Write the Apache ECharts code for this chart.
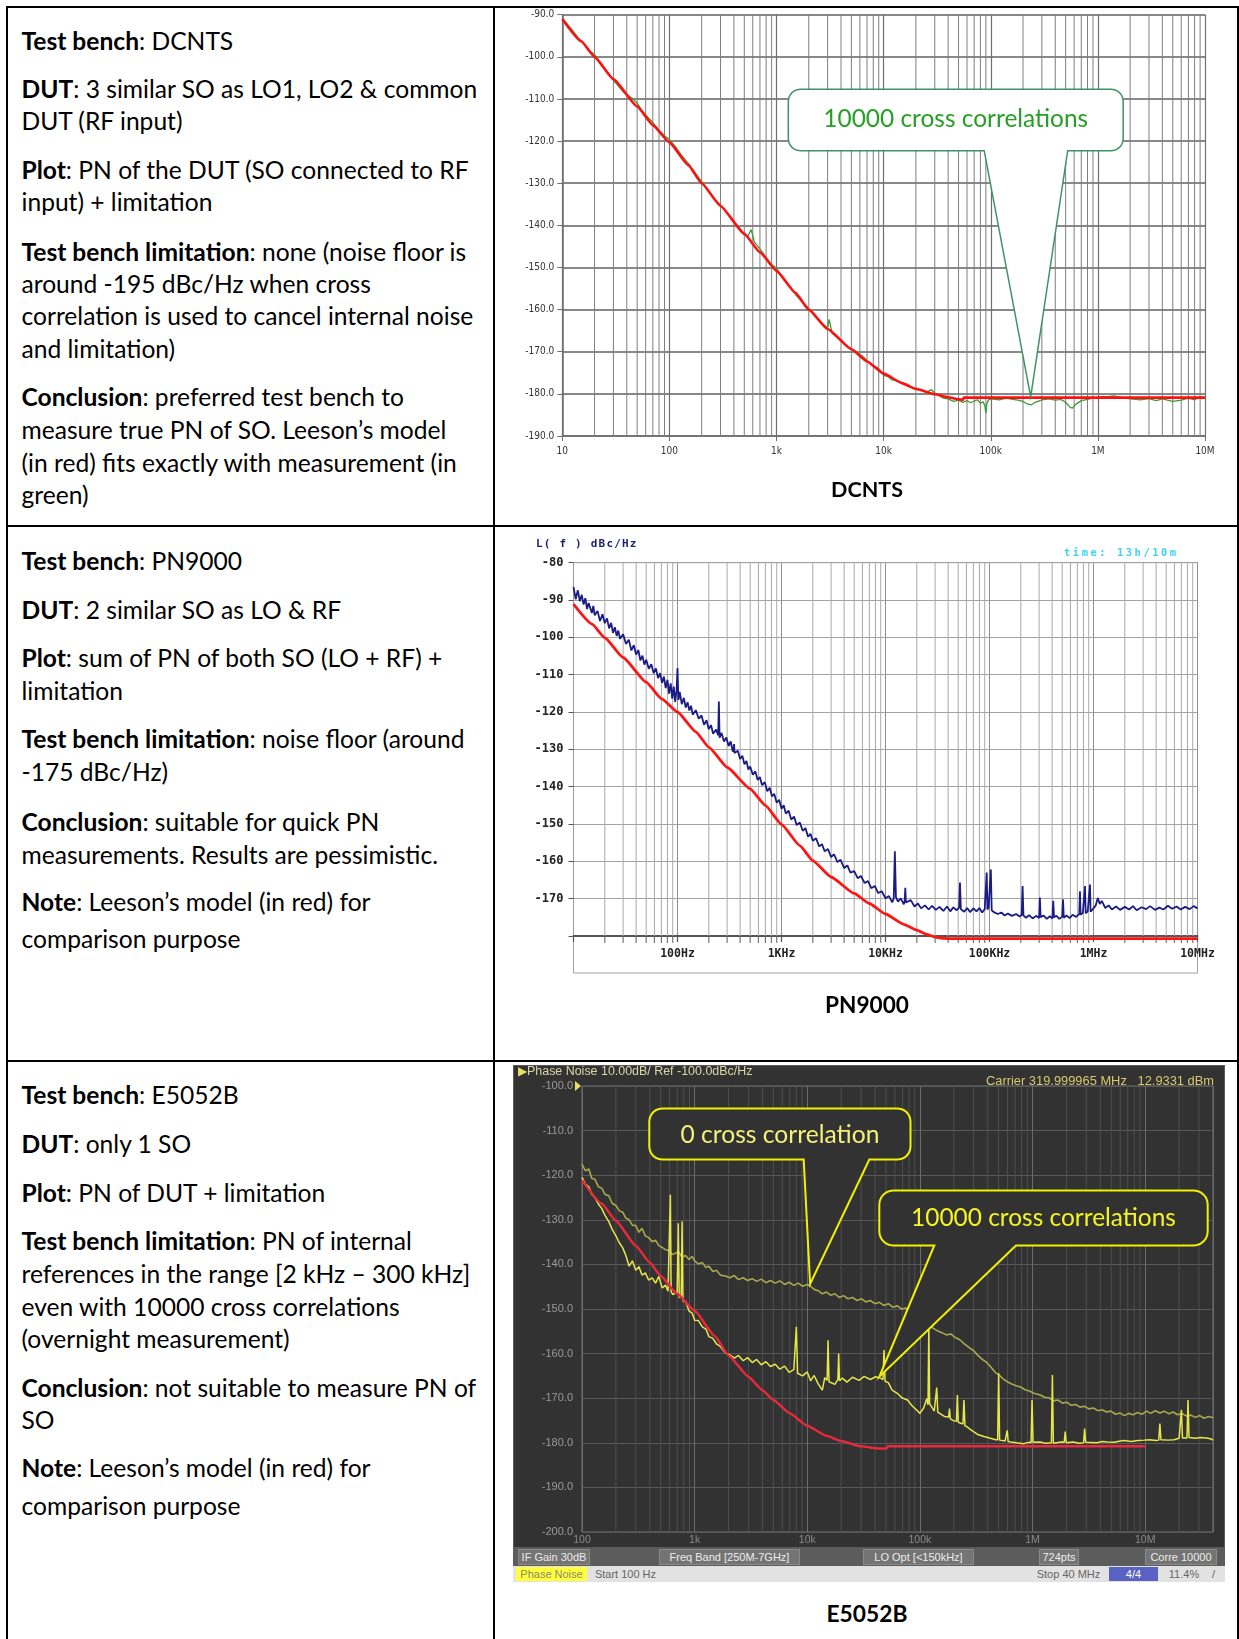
<!DOCTYPE html>
<html><head><meta charset="utf-8">
<script src="https://cdn.jsdelivr.net/npm/echarts/dist/echarts.min.js"></script>
<style>
html,body{margin:0;padding:0;background:#fff;}
#page{position:relative;width:1239px;height:1639px;overflow:hidden;background:#fff;}
.hl{position:absolute;height:2px;background:#000;}
.vl{position:absolute;width:2px;background:#000;}
.ln{position:absolute;left:21.5px;white-space:nowrap;color:#000;font-family:Lato,'Open Sans',sans-serif;font-size:21px;line-height:1;transform:translateY(-50%);}
.ln b{font-weight:700;}
.cap{position:absolute;white-space:nowrap;font-family:Lato,'Open Sans',sans-serif;font-weight:700;color:#000;font-size:22px;line-height:1;transform:translate(-50%,-50%);}
.chart{position:absolute;}
.ov{position:absolute;white-space:nowrap;line-height:1;transform:translateY(-50%);}
.box{position:absolute;box-sizing:border-box;white-space:nowrap;line-height:1;display:flex;align-items:center;justify-content:center;}
</style></head><body><div id="page">
<div class="hl" style="left:6px;top:6px;width:1233px"></div>
<div class="hl" style="left:6px;top:525px;width:1233px"></div>
<div class="hl" style="left:6px;top:1060px;width:1233px"></div>
<div class="vl" style="left:6px;top:6px;height:1633px"></div>
<div class="vl" style="left:493px;top:6px;height:1633px"></div>
<div class="vl" style="left:1237px;top:6px;height:1633px"></div>

<div id="c1" class="chart" style="left:497px;top:8px;width:738px;height:516px"></div>
<div id="c2" class="chart" style="left:497px;top:528px;width:738px;height:528px"></div>
<div id="c3" class="chart" style="left:513px;top:1065px;width:712px;height:483px;background:#323232;box-sizing:border-box;border:1px solid #5a5a5a"></div>

<div class="cap" data-w="72" style="left:867px;top:490px">DCNTS</div>
<div class="cap" data-w="84" style="left:867px;top:1005px">PN9000</div>
<div class="cap" data-w="81" style="left:867px;top:1613.5px">E5052B</div>

<div class="ov" style="left:536px;top:543px;font-family:'DejaVu Sans Mono',monospace;font-weight:700;font-size:11px;letter-spacing:1.2px;color:#1d1d70">L( f ) dBc/Hz</div>
<div class="ov" style="left:1064px;top:552px;font-family:'DejaVu Sans Mono',monospace;font-weight:700;font-size:10.5px;letter-spacing:2.5px;color:#3fd3ee">time: 13h/10m</div>

<div class="ov" data-w="235" style="left:518px;top:1071px;font-family:'Liberation Sans',sans-serif;font-size:12px;color:#d9d6a8"><span style="color:#e8e060">&#9654;</span>Phase Noise 10.00dB/ Ref -100.0dBc/Hz</div>
<div class="ov" data-w="228" style="left:986px;top:1081px;font-family:'Liberation Sans',sans-serif;font-size:12px;color:#d8c96c">Carrier 319.999965 MHz &nbsp;&nbsp;12.9331 dBm</div>

<div style="position:absolute;left:513px;top:1548px;width:712px;height:18px;background:#5c5c5c"></div>
<div style="position:absolute;left:513px;top:1566px;width:712px;height:16px;background:#e2e2e2"></div>
<div id="bars"></div>

<div id="txt"></div>
</div>
<script>
// ---------------- left column text ----------------
const textLines = [
 [41,'<b>Test bench</b>: DCNTS'],
 [89,'<b>DUT</b>: 3 similar SO as LO1, LO2 &amp; common'],
 [121,'DUT (RF input)'],
 [170,'<b>Plot</b>: PN of the DUT (SO connected to RF'],
 [202,'input) + limitation'],
 [251.5,'<b>Test bench limitation</b>: none (noise floor is'],
 [284,'around -195 dBc/Hz when cross'],
 [316,'correlation is used to cancel internal noise'],
 [348.5,'and limitation)'],
 [397,'<b>Conclusion</b>: preferred test bench to'],
 [430,'measure true PN of SO. Leeson\u2019s model'],
 [463,'(in red) fits exactly with measurement (in'],
 [494.5,'green)'],
 [561,'<b>Test bench</b>: PN9000'],
 [610,'<b>DUT</b>: 2 similar SO as LO &amp; RF'],
 [658,'<b>Plot</b>: sum of PN of both SO (LO + RF) +'],
 [690.5,'limitation'],
 [739,'<b>Test bench limitation</b>: noise floor (around'],
 [772,'-175 dBc/Hz)'],
 [821.5,'<b>Conclusion</b>: suitable for quick PN'],
 [854.5,'measurements. Results are pessimistic.'],
 [901.7,'<b>Note</b>: Leeson\u2019s model (in red) for'],
 [938.5,'comparison purpose'],
 [1094.5,'<b>Test bench</b>: E5052B'],
 [1144.4,'<b>DUT</b>: only 1 SO'],
 [1193,'<b>Plot</b>: PN of DUT + limitation'],
 [1241,'<b>Test bench limitation</b>: PN of internal'],
 [1274.3,'references in the range [2 kHz \u2013 300 kHz]'],
 [1306.7,'even with 10000 cross correlations'],
 [1339,'(overnight measurement)'],
 [1387.5,'<b>Conclusion</b>: not suitable to measure PN of'],
 [1420,'SO'],
 [1467.5,'<b>Note</b>: Leeson\u2019s model (in red) for'],
 [1506.4,'comparison purpose']
];
const txt = document.getElementById('txt');
let refEl = null;
textLines.forEach(([y, h]) => {
  const d = document.createElement('div'); d.className = 'ln'; d.style.top = y + 'px'; d.innerHTML = h;
  txt.appendChild(d);
  if (h.indexOf('correlation is used') === 0) refEl = d;
});
const k = 452 / refEl.getBoundingClientRect().width;
document.querySelectorAll('.ln').forEach(e => { e.style.fontSize = (21 * k).toFixed(2) + 'px'; });
document.querySelectorAll('[data-w]').forEach(e => {
  const fs = parseFloat(getComputedStyle(e).fontSize);
  const w = e.getBoundingClientRect().width;
  e.style.fontSize = (fs * parseFloat(e.dataset.w) / w).toFixed(2) + 'px';
});

// E5052B status bars
const barFields = [[518,590,'IF Gain 30dB'],[659,800,'Freq Band [250M-7GHz]'],[863,974,'LO Opt [<150kHz]'],[1039,1079,'724pts'],[1145,1217,'Corre 10000']];
const bars = document.getElementById('bars');
barFields.forEach(([a,b,t]) => {
  const d = document.createElement('div'); d.className = 'box';
  Object.assign(d.style,{left:a+'px',top:'1549px',width:(b-a)+'px',height:'16px',background:'#747474',border:'1px solid #8a8a8a',color:'#ececec',fontFamily:"'Liberation Sans',sans-serif",fontSize:'11px'});
  d.textContent = t; bars.appendChild(d);
});
const statusFields = [[516,587,'Phase Noise','#ffff3c','#8a8a70'],[589,662,'Start 100 Hz','transparent','#666'],[1031,1106,'Stop 40 MHz','transparent','#666'],[1109,1158,'4/4','#5a62c4','#fff'],[1163,1205,'11.4%','transparent','#666'],[1209,1218,'/','transparent','#666']];
statusFields.forEach(([a,b,t,bg,c]) => {
  const d = document.createElement('div'); d.className = 'box';
  Object.assign(d.style,{left:a+'px',top:'1567px',width:(b-a)+'px',height:'14px',background:bg,color:c,fontFamily:"'Liberation Sans',sans-serif",fontSize:'11px'});
  d.textContent = t; bars.appendChild(d);
});

// ---------------- data ----------------
const dcntsTickVals = [10,100,1e3,1e4,1e5,1e6,1e7];
const dcntsTickLabels = ['10','100','1k','10k','100k','1M','10M'];
const dcntsModel = [[10,-91],[15,-96.3],[20,-100],[30,-105.3],[50,-111.8],[70,-116.2],[100,-120.3],[150,-125.7],[200,-130],[300,-135.4],[500,-142],[700,-146.4],[1000,-150.8],[1500,-156],[2000,-160],[3000,-164.6],[5000,-169.4],[7000,-172.3],[10000,-175.2],[15000,-177.5],[20000,-178.8],[30000,-180.1],[40000,-180.8],[50000,-181.3],[55000,-181.4],[56000,-180.9],[100000,-180.9],[1000000,-180.9],[10000000,-180.9]];
const dcntsMeas = [[10,-90.8],[12,-93.2],[14,-95.4],[16,-96.9],[18,-98.6],[20,-99.4],[23,-101.9],[26,-103.4],[30,-105.6],[34,-107.2],[38,-108.6],[42,-109.3],[46,-110.1],[50,-111.0],[55,-112.6],[60,-113.8],[70,-115.6],[80,-117.4],[90,-118.8],[100,-119.6],[115,-121.5],[130,-123.4],[150,-125.3],[170,-127.2],[200,-129.6],[230,-131.7],[260,-133.6],[300,-135.2],[340,-136.9],[380,-138.6],[420,-139.7],[460,-140.9],[500,-142.3],[540,-142.6],[580,-141.0],[620,-143.9],[700,-145.6],[800,-147.6],[900,-149.3],[1000,-150.2],[1150,-152.6],[1300,-154.3],[1500,-156.4],[1700,-157.9],[2000,-159.7],[2300,-161.6],[2600,-163.1],[3000,-164.3],[3100,-162.3],[3300,-165.6],[3600,-166.4],[4000,-167.2],[4500,-168.6],[5000,-169.3],[5600,-170.1],[6300,-171.0],[7000,-172.1],[8000,-173.3],[9000,-174.0],[10000,-175.6],[11000,-175.9],[12000,-176.7],[13500,-176.9],[15000,-177.3],[17000,-178.2],[20000,-178.9],[22000,-179.1],[25000,-179.6],[28000,-179.0],[30000,-179.8],[33000,-180.4],[36000,-181.0],[40000,-181.2],[45000,-181.8],[50000,-181.5],[55000,-182.0],[60000,-181.6],[65000,-182.1],[70000,-181.7],[75000,-181.4],[80000,-182.2],[85000,-181.9],[88000,-182.8],[90000,-184.6],[92000,-182.3],[95000,-181.5],[100000,-181.2],[120000,-181.4],[140000,-181.0],[160000,-181.3],[180000,-181.5],[200000,-181.8],[220000,-182.4],[240000,-182.6],[260000,-182.0],[300000,-181.4],[350000,-181.2],[400000,-181.5],[450000,-181.3],[500000,-182.0],[550000,-183.2],[580000,-183.4],[620000,-182.5],[700000,-181.6],[800000,-181.3],[900000,-181.0],[1000000,-180.9],[1100000,-180.6],[1200000,-180.7],[1400000,-180.5],[1600000,-180.8],[2000000,-181.2],[2500000,-181.4],[3000000,-181.1],[3500000,-181.6],[4000000,-181.2],[5000000,-181.8],[6000000,-181.5],[7000000,-181.0],[8000000,-181.4],[9000000,-180.7],[10000000,-181.0]];
const dcntsCalloutTip = [236000,-180.7];
const dcntsCalloutText = '10000 cross correlations';

const pnTickVals = [10,100,1e3,1e4,1e5,1e6,1e7];
const pnTickLabels = ['','100Hz','1KHz','10KHz','100KHz','1MHz','10MHz'];
const pnModel = [[10,-91.1],[15,-96.4],[20,-100.1],[30,-105.4],[50,-112.0],[70,-116.4],[100,-120.0],[150,-125.3],[200,-129.4],[300,-134.8],[500,-140.6],[700,-145.0],[1000,-150.1],[1500,-155.8],[2000,-159.8],[3000,-164.2],[5000,-168.6],[7000,-171.3],[10000,-174.1],[15000,-176.9],[20000,-178.4],[25000,-179.6],[30000,-180.3],[35000,-180.6],[40000,-180.7],[100000,-180.7],[1000000,-180.7],[10000000,-180.7]];
const pnMeas = [[10,-86.5],[10.5,-89.8],[11,-87.4],[11.5,-90.3],[12,-88.6],[12.5,-91.2],[13,-89.5],[13.5,-92.4],[14,-90.8],[15,-93.5],[15.5,-91.6],[16,-94.1],[17,-92.9],[18,-95.6],[19,-93.8],[20,-96.2],[21,-94.9],[22,-97.6],[23,-96.1],[24,-98.8],[25,-97.3],[26,-99.6],[27,-98.2],[28,-100.4],[30,-99.2],[32,-101.8],[34,-100.6],[36,-103.5],[38,-102.1],[40,-104.6],[42,-103.4],[44,-106.2],[46,-104.9],[48,-107.3],[50,-106.0],[53,-108.4],[56,-107.2],[59,-109.6],[62,-108.3],[65,-110.9],[68,-109.6],[71,-112.2],[74,-110.5],[77,-113.6],[80,-111.4],[83,-115.1],[86,-112.3],[89,-116.4],[92,-113.2],[95,-117.3],[98,-114.1],[100,-108.2],[102,-116.8],[105,-114.6],[110,-117.9],[115,-116.2],[120,-118.8],[125,-117.4],[130,-119.6],[135,-118.3],[140,-120.7],[150,-119.5],[160,-121.8],[170,-120.9],[180,-123.4],[190,-122.2],[200,-124.6],[210,-123.5],[220,-125.8],[235,-124.7],[246,-126.2],[250,-117.2],[254,-126.9],[265,-125.6],[280,-127.9],[295,-126.8],[310,-129.1],[325,-127.9],[340,-130.6],[347,-129.9],[350,-128.6],[353,-131.0],[365,-131.3],[380,-130.4],[400,-132.6],[420,-131.7],[440,-134.0],[460,-133.1],[480,-135.4],[500,-134.6],[530,-136.8],[560,-135.9],[590,-138.2],[620,-137.4],[650,-139.6],[690,-138.8],[730,-141.2],[770,-140.3],[810,-142.6],[850,-141.9],[900,-144.3],[950,-143.5],[1000,-145.9],[1050,-145.0],[1100,-147.2],[1170,-146.4],[1240,-148.8],[1320,-148.0],[1400,-150.3],[1500,-149.6],[1600,-151.8],[1700,-151.1],[1800,-153.4],[1900,-152.6],[2000,-154.5],[2150,-153.8],[2300,-156.0],[2450,-155.4],[2600,-157.3],[2800,-156.7],[3000,-158.9],[3200,-158.1],[3450,-160.2],[3700,-159.6],[4000,-161.8],[4300,-161.1],[4600,-163.0],[5000,-162.6],[5400,-164.5],[5800,-163.9],[6300,-165.8],[6800,-165.3],[7300,-167.2],[7900,-166.6],[8500,-168.5],[9200,-168.0],[10000,-169.9],[10800,-169.3],[11600,-171.0],[12000,-170.0],[12300,-157.3],[12600,-169.6],[13200,-170.8],[14000,-169.9],[15000,-171.5],[15300,-170.6],[15500,-167.1],[15700,-171.0],[16200,-171.2],[17500,-170.4],[19000,-172.1],[20500,-171.3],[22000,-172.6],[24000,-171.8],[26000,-172.9],[28000,-171.9],[30500,-173.0],[33000,-172.2],[36000,-173.3],[39000,-172.1],[42000,-173.4],[45000,-172.3],[48000,-173.1],[51000,-172.4],[52000,-165.7],[53000,-172.8],[57000,-173.5],[61000,-172.5],[65000,-173.6],[70000,-172.6],[75000,-173.4],[80000,-172.5],[85000,-173.7],[90000,-172.8],[92500,-172.4],[94000,-163.0],[95500,-172.9],[98000,-172.3],[101000,-172.6],[103000,-162.2],[105000,-173.1],[110000,-173.6],[120000,-174.1],[130000,-173.7],[140000,-174.5],[150000,-174.0],[165000,-174.6],[180000,-174.1],[195000,-174.8],[204000,-174.3],[208000,-166.6],[212000,-174.5],[225000,-175.1],[240000,-174.4],[260000,-175.3],[280000,-174.6],[300000,-175.2],[305000,-169.7],[310000,-175.0],[330000,-174.5],[355000,-175.4],[380000,-174.7],[403000,-175.3],[410000,-170.6],[417000,-175.0],[440000,-174.6],[470000,-175.4],[500000,-174.8],[509000,-170.2],[518000,-175.1],[550000,-174.5],[590000,-175.2],[630000,-174.3],[680000,-174.9],[730000,-174.1],[741000,-168.0],[752000,-174.3],[790000,-173.8],[815000,-174.2],[828000,-166.6],[841000,-173.9],[880000,-173.4],[912000,-173.8],[925000,-166.2],[938000,-173.5],[970000,-173.1],[1000000,-172.6],[1050000,-171.8],[1100000,-169.8],[1150000,-171.4],[1200000,-170.6],[1300000,-172.5],[1400000,-171.8],[1500000,-172.9],[1650000,-172.1],[1800000,-173.0],[2000000,-172.2],[2200000,-172.9],[2400000,-172.0],[2600000,-173.1],[2900000,-172.3],[3200000,-172.8],[3500000,-172.0],[3900000,-173.0],[4300000,-172.4],[4700000,-172.9],[5200000,-171.9],[5700000,-172.7],[6300000,-172.1],[6900000,-172.9],[7600000,-172.2],[8400000,-172.8],[9200000,-172.0],[10000000,-172.6]];

const e5TickVals = [100,1e3,1e4,1e5,1e6,1e7];
const e5TickLabels = ['100','1k','10k','100k','1M','10M'];
const e5Model = [[100,-121.1],[150,-126.4],[200,-130.2],[300,-135.8],[400,-139.6],[500,-142.6],[700,-146.6],[1000,-150.4],[1500,-156.0],[2000,-160.4],[3000,-165.2],[4000,-168.2],[5000,-170.4],[7000,-173.4],[10000,-176.2],[15000,-178.5],[20000,-179.6],[30000,-180.8],[43000,-181.3],[50000,-181.3],[52000,-180.8],[100000,-180.8],[1000000,-180.8],[10000000,-180.8]];
const e5NoCorr = [[100,-117.5],[107,-119.0],[115,-118.6],[122,-120.7],[130,-120.9],[140,-122.6],[150,-122.9],[160,-124.3],[173,-124.6],[185,-126.3],[200,-126.8],[215,-128.0],[230,-128.3],[245,-129.6],[262,-130.0],[280,-131.2],[300,-131.3],[320,-132.8],[341,-131.9],[365,-133.6],[390,-134.0],[420,-134.9],[450,-134.6],[481,-135.8],[515,-136.2],[550,-136.7],[590,-136.9],[630,-137.8],[676,-137.5],[720,-137.1],[770,-138.4],[830,-138.0],[890,-138.9],[950,-138.2],[1000,-139.2],[1080,-139.9],[1170,-139.6],[1260,-140.7],[1340,-140.4],[1450,-141.6],[1560,-141.3],[1690,-142.4],[1880,-142.6],[2050,-143.0],[2250,-142.5],[2450,-143.4],[2700,-143.0],[2950,-143.6],[3250,-143.2],[3550,-143.8],[3900,-143.3],[4300,-144.1],[4700,-143.6],[5200,-144.2],[5700,-143.7],[6300,-144.5],[6900,-144.0],[7600,-144.7],[8300,-144.2],[9100,-144.9],[10000,-144.5],[10700,-144.9],[11500,-145.6],[12500,-145.9],[13600,-146.6],[14800,-146.2],[16100,-146.9],[17600,-146.6],[19200,-147.4],[21000,-147.0],[23000,-147.7],[25200,-147.4],[27600,-148.1],[30200,-147.7],[33100,-148.4],[36300,-148.1],[39800,-148.8],[43600,-148.5],[47800,-149.2],[52400,-148.8],[57400,-149.6],[63000,-149.3],[69000,-150.0],[75600,-149.8],[82800,-150.6],[90700,-151.4],[99400,-152.2],[109000,-153.0],[119000,-153.6],[131000,-154.3],[143000,-154.9],[157000,-155.3],[172000,-155.8],[188000,-155.6],[206000,-156.4],[226000,-156.9],[248000,-157.8],[272000,-158.6],[299000,-159.3],[327000,-160.4],[358000,-161.3],[392000,-162.0],[423000,-162.9],[465000,-164.2],[509000,-164.9],[556000,-165.8],[596000,-166.3],[653000,-166.8],[715000,-167.2],[783000,-167.5],[857000,-168.1],[938000,-168.4],[1030000,-168.9],[1170000,-169.3],[1280000,-169.8],[1400000,-169.9],[1530000,-170.6],[1680000,-170.4],[1840000,-171.1],[2010000,-170.9],[2200000,-171.6],[2410000,-171.4],[2640000,-172.0],[2890000,-171.8],[3160000,-172.4],[3460000,-172.2],[3790000,-172.8],[4150000,-172.6],[4540000,-173.1],[4970000,-172.9],[5440000,-173.6],[5960000,-173.3],[6520000,-173.9],[7140000,-173.4],[7820000,-173.7],[8560000,-173.2],[9370000,-173.6],[10300000,-172.9],[11200000,-173.4],[12300000,-172.8],[13500000,-173.3],[14800000,-172.9],[16200000,-173.5],[17700000,-173.1],[19400000,-173.7],[21200000,-173.4],[23200000,-174.0],[25400000,-173.8],[27800000,-174.3],[30500000,-173.9],[33400000,-174.5],[36500000,-174.1],[40000000,-174.4]];
const e5Corr = [[100,-120.5],[107,-122.0],[115,-122.6],[122,-124.3],[130,-125.0],[140,-126.5],[150,-127.5],[160,-129.0],[173,-130.4],[185,-132.1],[200,-133.6],[215,-135.2],[230,-136.3],[245,-138.0],[262,-140.4],[280,-139.2],[300,-141.3],[320,-140.5],[341,-142.4],[365,-141.9],[390,-143.5],[420,-143.0],[450,-144.2],[481,-142.7],[515,-145.3],[550,-144.6],[580,-146.0],[600,-145.6],[609,-124.4],[618,-146.1],[640,-146.8],[700,-146.2],[716,-130.8],[730,-147.5],[760,-147.0],[774,-130.4],[788,-148.2],[830,-148.3],[890,-150.4],[950,-150.9],[1000,-152.5],[1080,-152.6],[1170,-154.0],[1260,-154.5],[1340,-156.2],[1450,-156.6],[1560,-157.8],[1690,-158.4],[1880,-159.9],[2050,-160.3],[2250,-161.0],[2450,-160.4],[2700,-161.6],[2950,-160.9],[3250,-162.0],[3550,-161.3],[3900,-162.5],[4300,-161.8],[4700,-162.9],[5200,-162.4],[5700,-163.5],[6300,-162.8],[6900,-164.2],[7600,-163.6],[7800,-163.8],[8000,-154.0],[8200,-164.4],[9100,-165.0],[10000,-164.1],[10700,-166.1],[11500,-164.9],[12500,-166.8],[13600,-168.2],[14300,-165.4],[15000,-166.0],[15300,-157.0],[15600,-166.3],[16100,-165.9],[17600,-166.9],[18700,-165.8],[19000,-160.0],[19300,-166.1],[20500,-165.5],[22500,-166.4],[25200,-165.3],[28800,-166.0],[32000,-165.1],[36300,-165.8],[40400,-165.2],[44600,-165.5],[47000,-165.8],[48000,-159.2],[49000,-166.2],[52400,-166.5],[56700,-168.2],[63000,-168.9],[69000,-169.9],[77500,-170.4],[86000,-171.8],[93000,-172.6],[100000,-173.4],[108000,-172.2],[115000,-170.1],[118000,-171.5],[120000,-154.0],[122000,-171.2],[126000,-171.0],[134000,-172.9],[138000,-172.6],[141000,-167.6],[144000,-173.1],[150000,-173.4],[165000,-174.1],[180000,-174.2],[183000,-172.3],[186000,-174.6],[196000,-175.0],[211000,-175.2],[215000,-169.3],[219000,-175.4],[230000,-175.6],[241000,-175.8],[246000,-170.4],[251000,-176.2],[262000,-176.4],[280000,-177.0],[299000,-177.5],[330000,-178.2],[370000,-178.6],[423000,-179.0],[470000,-179.3],[490000,-179.3],[500000,-164.4],[510000,-179.4],[530000,-179.4],[570000,-179.6],[585000,-179.6],[596000,-177.2],[607000,-179.7],[640000,-179.8],[720000,-180.0],[832000,-180.2],[920000,-179.9],[970000,-180.0],[990000,-170.4],[1010000,-179.9],[1170000,-179.8],[1300000,-180.1],[1470000,-180.0],[1500000,-164.8],[1530000,-180.1],[1800000,-179.8],[1910000,-179.9],[1950000,-177.5],[1990000,-180.0],[2300000,-179.8],[2600000,-180.1],[2840000,-180.0],[2900000,-176.8],[2960000,-179.9],[3700000,-180.0],[4200000,-179.7],[4600000,-179.8],[5300000,-179.9],[6000000,-179.6],[6500000,-179.5],[7500000,-179.7],[8600000,-179.5],[9800000,-179.4],[11000000,-179.3],[12500000,-179.5],[13200000,-179.4],[13500000,-175.7],[13800000,-179.3],[16000000,-179.4],[18000000,-179.3],[20000000,-179.0],[20600000,-179.0],[21000000,-172.6],[21400000,-178.9],[23500000,-178.9],[24000000,-170.4],[24500000,-178.8],[28000000,-179.0],[31000000,-178.8],[35000000,-178.9],[38000000,-179.1],[40000000,-179.4]];
const e5CalloutTips = [[10600,-144.4],[43600,-165.2]];
const e5CalloutTexts = ['0 cross correlation','10000 cross correlations'];

// ---------------- helpers ----------------
function logLabel(vals, labels){
  return function(v){
    for (let i = 0; i < vals.length; i++) { if (Math.abs(Math.log10(v) - Math.log10(vals[i])) < 1e-6) return labels[i]; }
    return '';
  };
}
function minorFreqs(lo, hi){
  const out = [];
  for (let d = lo; d < hi; d *= 10) { for (const m of [2,3,4,5,6,7,8,9]) { if (m * d < hi) out.push(m * d); } }
  return out;
}
function vLines(freqs, y0, y1, color, width){
  const data = [];
  freqs.forEach(f => { data.push([f, y0], [f, y1], [f, '-']); });
  return {type:'line', data, showSymbol:false, symbol:'none', silent:true, connectNulls:false, lineStyle:{color, width}, z:1};
}
function fitSize(text, family, weight, target){
  const c = document.createElement('canvas').getContext('2d');
  c.font = weight + ' 100px ' + family;
  return 100 * target / c.measureText(text).width;
}
function calloutPts(b, tip){
  const pts = []; const r = b.r;
  const arc = (cx, cy, a0, a1) => { for (let i = 0; i <= 6; i++) { const a = a0 + (a1 - a0) * i / 6; pts.push([cx + r * Math.cos(a), cy + r * Math.sin(a)]); } };
  arc(b.x0 + r, b.y0 + r, Math.PI, 1.5 * Math.PI);
  arc(b.x1 - r, b.y0 + r, 1.5 * Math.PI, 2 * Math.PI);
  arc(b.x1 - r, b.y1 - r, 0, 0.5 * Math.PI);
  pts.push([b.bx1, b.y1]); pts.push(tip); pts.push([b.bx0, b.y1]);
  arc(b.x0 + r, b.y1 - r, 0.5 * Math.PI, Math.PI);
  return pts;
}
const FONT = 'Lato';

// ---------------- chart 1 : DCNTS ----------------
const c1 = echarts.init(document.getElementById('c1'));
const lab1 = {fontFamily:'DejaVu Sans Condensed', fontSize:10, color:'#333'};
c1.setOption({
  animation:false,
  grid:{left:65.3, top:6.7, width:642.7, height:421.3, show:false, containLabel:false, outerBoundsMode:'none'},
  xAxis:{type:'log', logBase:10, min:10, max:1e7,
    axisLine:{show:true, onZero:false, lineStyle:{color:'#6e6e6e', width:1.5}},
    axisTick:{show:true, length:5, lineStyle:{color:'#6e6e6e'}},
    axisLabel:Object.assign({formatter:logLabel(dcntsTickVals, dcntsTickLabels), margin:10, showMinLabel:true, showMaxLabel:true, hideOverlap:false}, lab1),
    splitLine:{show:true, lineStyle:{color:'#707070', width:1.2}}},
  yAxis:{type:'value', min:-190, max:-90, interval:10,
    axisLine:{show:true, onZero:false, lineStyle:{color:'#6e6e6e', width:1.5}},
    axisTick:{show:true, length:5, lineStyle:{color:'#6e6e6e'}},
    axisLabel:Object.assign({formatter:v => v.toFixed(1), margin:8}, lab1),
    splitLine:{show:true, lineStyle:{color:'#888', width:2}}},
  series:[
    vLines(minorFreqs(10, 1e7), -190, -90, '#7e7e7e', 1),
    {type:'line', name:'measurement', data:dcntsMeas, showSymbol:false, symbol:'none', lineStyle:{color:'#3a9a3a', width:1.3}, z:3},
    {type:'line', name:'Leeson model', data:dcntsModel, showSymbol:false, symbol:'none', smooth:0.15, smoothMonotone:'x', lineStyle:{color:'#ff1010', width:2.6}, z:4}
  ]
});
const tip1 = c1.convertToPixel({xAxisIndex:0, yAxisIndex:0}, dcntsCalloutTip);
const box1 = {x0:291.3, y0:81.3, x1:626.2, y1:142.7, r:12, bx0:487.2, bx1:570.7};
const fs1 = fitSize(dcntsCalloutText, FONT, 'normal', 265);
c1.setOption({graphic:[
  {type:'polygon', z:100, silent:true, shape:{points:calloutPts(box1, tip1)}, style:{fill:'#ffffff', stroke:'#3d9462', lineWidth:1.5}},
  {type:'text', z:101, silent:true, style:{text:dcntsCalloutText, x:(box1.x0 + box1.x1) / 2, y:(box1.y0 + box1.y1) / 2 - 1, textAlign:'center', textVerticalAlign:'middle', fill:'#25a025', font:'normal ' + fs1.toFixed(2) + 'px ' + FONT}}
]});

// ---------------- chart 2 : PN9000 ----------------
const c2 = echarts.init(document.getElementById('c2'));
const lab2 = {fontFamily:'DejaVu Sans Mono', fontWeight:'bold', fontSize:12, color:'#222'};
const g2 = {left:76.5, top:34.7, width:624, height:373.3};
const pnMinors = minorFreqs(10, 1e7);
c2.setOption({
  animation:false,
  grid:Object.assign({show:false, containLabel:false, outerBoundsMode:'none'}, g2),
  xAxis:{type:'log', logBase:10, min:10, max:1e7,
    axisLine:{show:true, onZero:false, lineStyle:{color:'#555', width:2}},
    axisTick:{show:true, length:6, lineStyle:{color:'#555', width:1.2}},
    axisLabel:Object.assign({formatter:logLabel(pnTickVals, pnTickLabels), margin:12, showMinLabel:true, showMaxLabel:true, hideOverlap:false}, lab2, {fontSize:11.5}),
    splitLine:{show:true, lineStyle:{color:'#8f8f8f', width:1}}},
  yAxis:{type:'value', min:-180, max:-80, interval:10,
    axisLine:{show:true, onZero:false, lineStyle:{color:'#9a9a9a', width:1}},
    axisTick:{show:true, length:5, lineStyle:{color:'#555'}},
    axisLabel:Object.assign({formatter:v => (v === -180 ? '' : String(v)), margin:10}, lab2),
    splitLine:{show:true, lineStyle:{color:'#a2a2a2', width:1}}},
  graphic:[{type:'rect', silent:true, z:0, shape:{x:g2.left, y:g2.top, width:g2.width, height:410.3}, style:{fill:'none', stroke:'#a0a0a0', lineWidth:1}}],
  series:[
    vLines(pnMinors, -180, -80, '#a8a8a8', 1),
    {type:'scatter', data:pnMinors.map(f => [f, -180]), symbol:'rect', symbolSize:[1.2, 6], symbolOffset:[0, 4], itemStyle:{color:'#555'}, silent:true, clip:false, z:2},
    {type:'line', name:'measurement', data:pnMeas, showSymbol:false, symbol:'none', lineStyle:{color:'#1b1b86', width:1.8}, z:3},
    {type:'line', name:'Leeson model', data:pnModel, showSymbol:false, symbol:'none', smooth:0.15, smoothMonotone:'x', clip:false, lineStyle:{color:'#ff1414', width:2.8}, z:4}
  ]
});

// ---------------- chart 3 : E5052B ----------------
const c3 = echarts.init(document.getElementById('c3'));
const lab3 = {fontFamily:'Liberation Sans', fontSize:11, color:'#9a9a9a'};
c3.setOption({
  animation:false,
  grid:{left:68, top:20, width:631, height:446, show:true, borderColor:'#707070', borderWidth:1, backgroundColor:'transparent', containLabel:false, outerBoundsMode:'none'},
  xAxis:{type:'log', logBase:10, min:100, max:4e7,
    axisLine:{show:false}, axisTick:{show:false},
    axisLabel:Object.assign({formatter:logLabel(e5TickVals, e5TickLabels), margin:3, showMinLabel:true, showMaxLabel:true, hideOverlap:false}, lab3, {color:'#8a8a8a', fontSize:10.5}),
    splitLine:{show:true, lineStyle:{color:'#6c6c6c', width:1}}},
  yAxis:{type:'value', min:-200, max:-100, interval:10,
    axisLine:{show:false}, axisTick:{show:false},
    axisLabel:Object.assign({formatter:v => v.toFixed(1), margin:9}, lab3),
    splitLine:{show:true, lineStyle:{color:'#595959', width:1}}},
  series:[
    vLines(minorFreqs(100, 4e7), -200, -100, '#4f4f4f', 1),
    {type:'line', name:'0 cross correlation', data:e5NoCorr, showSymbol:false, symbol:'none', lineStyle:{color:'#a8a84e', width:1.6}, z:3},
    {type:'line', name:'10000 cross correlations', data:e5Corr, showSymbol:false, symbol:'none', lineStyle:{color:'#e6e64a', width:1.5}, z:4},
    {type:'line', name:'Leeson model', data:e5Model, showSymbol:false, symbol:'none', smooth:0.15, smoothMonotone:'x', lineStyle:{color:'#e8283c', width:2.5}, z:5}
  ]
});
const tipA = c3.convertToPixel({xAxisIndex:0, yAxisIndex:0}, e5CalloutTips[0]);
const tipB = c3.convertToPixel({xAxisIndex:0, yAxisIndex:0}, e5CalloutTips[1]);
const refPt = c3.convertToPixel({xAxisIndex:0, yAxisIndex:0}, [100, -100]);
const boxA = {x0:135.3, y0:42.5, x1:396.5, y1:93.5, r:13, bx0:289.7, bx1:355.3};
const boxB = {x0:365.3, y0:124.5, x1:693.7, y1:179.5, r:14, bx0:420.3, bx1:502};
const fsA = fitSize(e5CalloutTexts[0], FONT, 'normal', 199);
const fsB = fitSize(e5CalloutTexts[1], FONT, 'normal', 265);
c3.setOption({graphic:[
  {type:'polygon', z:100, silent:true, shape:{points:calloutPts(boxA, tipA)}, style:{fill:'#323232', stroke:'#f0f000', lineWidth:2}},
  {type:'text', z:101, silent:true, style:{text:e5CalloutTexts[0], x:(boxA.x0 + boxA.x1) / 2, y:(boxA.y0 + boxA.y1) / 2 + 1, textAlign:'center', textVerticalAlign:'middle', fill:'#f4f07a', font:'normal ' + fsA.toFixed(2) + 'px ' + FONT}},
  {type:'polygon', z:100, silent:true, shape:{points:calloutPts(boxB, tipB)}, style:{fill:'#323232', stroke:'#f0f000', lineWidth:2}},
  {type:'text', z:101, silent:true, style:{text:e5CalloutTexts[1], x:(boxB.x0 + boxB.x1) / 2, y:(boxB.y0 + boxB.y1) / 2, textAlign:'center', textVerticalAlign:'middle', fill:'#f5f520', font:'normal ' + fsB.toFixed(2) + 'px ' + FONT}},
  {type:'polygon', z:102, silent:true, shape:{points:[[refPt[0] - 7, refPt[1] - 5], [refPt[0] - 1, refPt[1]], [refPt[0] - 7, refPt[1] + 5]]}, style:{fill:'#e8e060'}}
]});
</script>
</body></html>
